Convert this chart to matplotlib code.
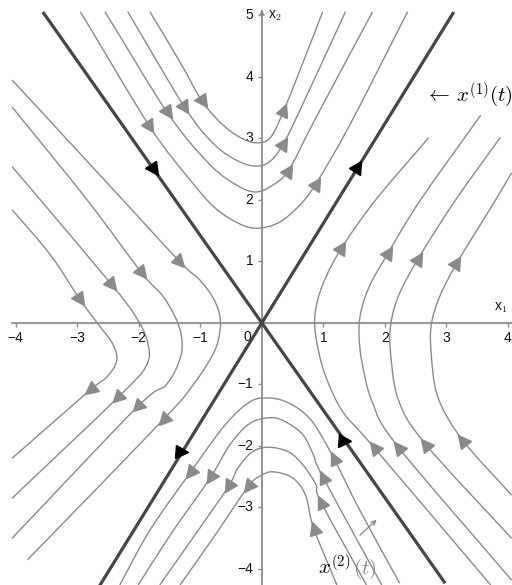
import numpy as np
import matplotlib.pyplot as plt
from matplotlib.path import Path
from matplotlib.patches import PathPatch
from matplotlib.markers import MarkerStyle
from matplotlib.transforms import Affine2D

plt.rcParams['mathtext.fontset'] = 'cm'

# straight-line solutions x(1) and x(2): slope and x-extent
line1_slope = 1.62
line1_x = (-2.66, 3.12)
line2_slope = -1.42
line2_x = (-3.56, 2.98)
# black arrows on the straight lines: (line, x, marker angle in degrees)
line_arrows = [(2, -1.75, -54.8), (1, 1.57, 58.3), (1, -1.30, -3.0), (2, 1.35, -3.0)]

# trajectories above the origin (left -> right)
top_curves = [
    [(-2.95, 5.06), (-1.82, 3.19), (-1.17, 2.33), (-0.76, 1.87), (-0.36, 1.61), (-0.06, 1.54),
     (0.29, 1.64), (0.62, 1.92), (0.89, 2.28), (1.43, 3.22), (2.37, 5.06)],
    [(-2.55, 5.06), (-1.53, 3.41), (-0.84, 2.57), (-0.39, 2.23), (-0.10, 2.13), (0.16, 2.23),
     (0.44, 2.49), (0.86, 3.30), (1.80, 5.06)],
    [(-2.18, 5.06), (-1.25, 3.50), (-0.76, 2.89), (-0.36, 2.62), (-0.06, 2.55), (0.16, 2.65),
     (0.36, 2.93), (0.62, 3.46), (1.36, 5.06)],
    [(-1.82, 5.06), (-1.33, 4.24), (-0.96, 3.59), (-0.60, 3.19), (-0.28, 2.98), (-0.03, 2.93),
     (0.16, 3.04), (0.36, 3.46), (0.62, 4.11), (0.99, 5.06)],
]
top_arrow_idx = [[1, 8], [1, 6], [1, 6], [2, 7]]

# trajectories left of the origin (top -> bottom)
left_curves = [
    [(-4.06, 3.95), (-2.26, 2.00), (-1.33, 0.99), (-1.01, 0.70), (-0.80, 0.42), (-0.69, 0.15),
     (-0.68, -0.12), (-0.78, -0.48), (-1.12, -1.01), (-1.61, -1.58), (-3.81, -3.85)],
    [(-4.06, 3.51), (-2.84, 2.00), (-1.95, 0.81), (-1.62, 0.45), (-1.42, 0.12), (-1.31, -0.20),
     (-1.32, -0.55), (-1.55, -1.00), (-2.03, -1.37), (-4.06, -3.50)],
    [(-4.06, 2.54), (-3.60, 2.00), (-2.44, 0.62), (-2.06, 0.12), (-1.86, -0.30), (-1.88, -0.70),
     (-2.35, -1.22), (-4.06, -2.85)],
    [(-4.06, 1.84), (-3.44, 1.11), (-2.95, 0.37), (-2.66, -0.02), (-2.42, -0.35), (-2.36, -0.62),
     (-2.52, -0.88), (-2.79, -1.09), (-4.06, -2.20)],
]
left_arrow_idx = [[2, 9], [2, 8], [2, 6], [2, 7]]

# trajectories right of the origin (top -> bottom)
right_curves = [
    [(2.71, 3.01), (1.85, 2.00), (1.31, 1.24), (1.03, 0.72), (0.89, 0.30), (0.86, -0.05),
     (0.92, -0.45), (1.05, -0.90), (1.32, -1.45), (1.82, -2.02), (3.72, -4.26)],
    [(3.56, 3.38), (2.58, 2.00), (2.06, 1.15), (1.76, 0.62), (1.61, 0.18), (1.58, -0.20),
     (1.63, -0.65), (1.80, -1.30), (2.22, -2.02), (4.06, -4.18)],
    [(3.88, 3.02), (3.15, 2.00), (2.55, 1.06), (2.23, 0.46), (2.10, 0.0), (2.09, -0.45),
     (2.22, -1.25), (2.66, -1.97), (4.06, -3.50)],
    [(4.06, 2.44), (3.80, 2.00), (3.18, 0.99), (2.90, 0.45), (2.76, 0.0), (2.75, -0.45),
     (2.86, -1.20), (3.26, -1.90), (4.06, -2.80)],
]
right_arrow_idx = [[2, 9], [2, 8], [2, 7], [2, 7]]

# trajectories below the origin (left -> right)
bottom_curves = [
    [(-2.31, -4.26), (-1.82, -3.37), (-1.17, -2.44), (-0.60, -1.66), (-0.19, -1.28), (0.11, -1.22),
     (0.39, -1.28), (0.67, -1.45), (0.88, -1.69), (1.17, -2.20), (1.59, -3.04), (2.24, -4.23)],
    [(-2.01, -4.26), (-1.49, -3.45), (-0.84, -2.52), (-0.52, -1.98), (-0.19, -1.63), (0.15, -1.54),
     (0.39, -1.61), (0.67, -1.82), (0.84, -2.15), (0.99, -2.50), (1.95, -4.26)],
    [(-1.66, -4.26), (-1.09, -3.45), (-0.55, -2.67), (-0.39, -2.36), (-0.16, -2.10), (0.11, -2.02),
     (0.44, -2.10), (0.67, -2.31), (0.88, -2.63), (0.96, -2.91), (1.70, -4.26)],
    [(-1.33, -4.26), (-0.76, -3.45), (-0.23, -2.67), (-0.03, -2.49), (0.18, -2.42), (0.50, -2.52),
     (0.71, -2.80), (0.84, -3.33), (1.22, -4.26)],
]
bottom_arrow_idx = [[2, 9], [2, 9], [2, 9], [2, 7]]

x_ticks = [-4, -3, -2, -1, 1, 2, 3, 4]
y_ticks = [-4, -3, -2, -1, 1, 2, 3, 4, 5]

CURVE = '#8a8a8a'
AXIS = '#8c8c8c'
THICK = '#454545'


def smooth_path(pts):
    """Catmull-Rom spline through the points, as cubic Bezier segments."""
    p = np.asarray(pts, float)
    ext = np.vstack([2 * p[0] - p[1], p, 2 * p[-1] - p[-2]])
    verts = [p[0]]
    codes = [Path.MOVETO]
    for i in range(len(p) - 1):
        p0, p1, p2, p3 = ext[i], ext[i + 1], ext[i + 2], ext[i + 3]
        verts += [p1 + (p2 - p0) / 6, p2 - (p3 - p1) / 6, p2]
        codes += [Path.CURVE4] * 3
    return Path(verts, codes)


def arrow(ax, x, y, angle, color, size):
    m = MarkerStyle('>', transform=Affine2D().rotate_deg(angle))
    ax.plot(x, y, marker=m, ms=size, color=color, mec=color, zorder=5)


fig = plt.figure(figsize=(5.12, 5.85), dpi=100)
ax = fig.add_axes([0, 0, 1, 1])
ax.set_xlim(-4.25, 4.06)
ax.set_ylim(-4.26, 5.25)
ax.set_aspect('equal')
ax.axis('off')

# coordinate axes
ax.plot([-4.06, 4.1], [0, 0], color=AXIS, lw=1.3, zorder=1)
ax.plot([0, 0], [-4.3, 5.06], color=AXIS, lw=1.3, zorder=1)
ax.annotate('', xy=(0, 5.14), xytext=(0, 5.0),
            arrowprops=dict(arrowstyle='->', color=AXIS, lw=1.2, mutation_scale=7))
ax.plot(x_ticks, [0] * len(x_ticks), ls='none', marker=3, ms=3, color=AXIS, mew=1)
ax.plot([0] * len(y_ticks), y_ticks, ls='none', marker=0, ms=3, color=AXIS, mew=1)

tick_font = dict(family='Liberation Sans', fontsize=10, color='#111111', zorder=1)
for t in x_ticks:
    ax.text(t, -0.24, '\u2212%d' % -t if t < 0 else str(t), ha='center', va='center', **tick_font)
for t in y_ticks:
    ax.text(-0.14, t, '\u2212%d' % -t if t < 0 else str(t), ha='right', va='center', **tick_font)
ax.text(-0.23, -0.23, '0', ha='center', va='center', **tick_font)
ax.text(0.10, 4.99, 'x$_2$', ha='left', va='center', **tick_font)
ax.text(3.77, 0.25, 'x$_1$', ha='left', va='center', **tick_font)

# trajectories with flow arrows
families = [(top_curves, top_arrow_idx, +1), (left_curves, left_arrow_idx, +1),
            (right_curves, right_arrow_idx, -1), (bottom_curves, bottom_arrow_idx, -1)]
for curves, idx, sign in families:
    for pts, ids in zip(curves, idx):
        ax.add_patch(PathPatch(smooth_path(pts), fill=False, ec=CURVE, lw=1.0, zorder=2))
        p = np.asarray(pts)
        for i in ids:
            d = (p[i + 1] - p[i - 1]) * sign
            arrow(ax, p[i, 0], p[i, 1], np.degrees(np.arctan2(d[1], d[0])), CURVE, 9)

# straight-line solutions
for slope, xr in [(line1_slope, line1_x), (line2_slope, line2_x)]:
    xs = np.array(xr)
    ax.plot(xs, slope * xs, color=THICK, lw=2.3, zorder=3, solid_capstyle='butt')
for which, x, ang in line_arrows:
    slope = line1_slope if which == 1 else line2_slope
    arrow(ax, x, slope * x, ang, 'black', 9)

# labels of the two solutions
ax.text(2.65, 3.71, r'$\leftarrow\, x^{(1)}(t)$', fontsize=15, ha='left', va='center')
ax.text(0.91, -4.08, r'$x^{(2)}$', fontsize=15, ha='left', va='baseline')
ax.text(1.48, -4.08, r'$(t)$', fontsize=15, ha='left', va='baseline', color='#888888')
ax.annotate('', xy=(1.90, -3.17), xytext=(1.56, -3.48),
            arrowprops=dict(arrowstyle='->', color='#888888', lw=0.9, mutation_scale=8))

fig.savefig('out.png', dpi=100)
